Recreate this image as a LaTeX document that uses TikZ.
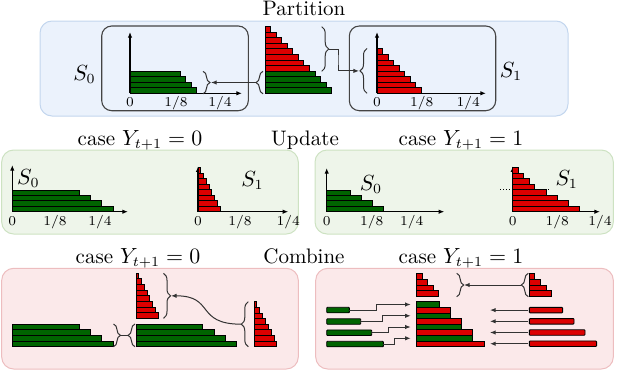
\documentclass[tikz,border=0pt]{standalone}
\usetikzlibrary{arrows.meta,decorations.pathreplacing,calc}
\definecolor{gfill}{HTML}{006400}
\definecolor{rfill}{HTML}{DD0000}
\definecolor{bluebg}{HTML}{EBF2FC}
\definecolor{blueln}{HTML}{C3D6EE}
\definecolor{greenbg}{HTML}{EEF5EA}
\definecolor{greenln}{HTML}{CDE2C2}
\definecolor{redbg}{HTML}{FBE9EA}
\definecolor{redln}{HTML}{EDBDBF}
\definecolor{boxln}{HTML}{444444}
\definecolor{conncol}{HTML}{333333}
\newcommand\mystack[4]{%
  \foreach \w/\c [count=\i] in {#4} {\draw[bar,fill=\c] (#1,{#2+(\i-1)*#3}) rectangle ++(\w,#3);}}
\tikzset{
  bar/.style={draw=black, line width=0.45pt},
  axis/.style={draw=black, line width=0.55pt, -{Latex[length=2.8pt,width=2.2pt]}},
  tick/.style={font=\fontsize{6.8}{7}\selectfont, anchor=base, inner sep=0pt},
  ttl/.style={font=\fontsize{10.5}{12}\selectfont, anchor=base, inner sep=0pt},
  brc/.style={draw=conncol, line width=0.5pt, decorate, decoration={brace, amplitude=3.5pt}},
  conn/.style={draw=conncol, line width=0.5pt, -{Latex[length=2.8pt,width=2.2pt]}},
  plainconn/.style={draw=conncol, line width=0.5pt},
  bluepanel/.style={fill=bluebg, draw=blueln, line width=0.5pt, rounded corners=6pt},
  greenpanel/.style={fill=greenbg, draw=greenln, line width=0.5pt, rounded corners=6pt},
  redpanel/.style={fill=redbg, draw=redln, line width=0.5pt, rounded corners=6pt},
  innerbox/.style={draw=boxln, line width=0.55pt, rounded corners=5pt},
}
\begin{document}
\begin{tikzpicture}[x=0.5pt,y=-0.5pt]
\useasboundingbox (0,0) rectangle (640,391);
% ---------------- panels
\draw[bluepanel] (40,21) rectangle (568,116);
\draw[greenpanel] (1.7,150) rectangle (298.3,234);
\draw[greenpanel] (315,150) rectangle (613.3,234);
\draw[redpanel] (1.7,268.3) rectangle (298.3,369);
\draw[redpanel] (315.7,268.3) rectangle (613.3,369);
% ---------------- titles
\node[ttl] (tpart) at (304,15.7) {Partition};
\node[ttl] (tc0a) at (140,145) {case $Y_{t+1}=0$};
\node[ttl] (tupd) at (305,145) {Update};
\node[ttl] (tc1a) at (461,145) {case $Y_{t+1}=1$};
\node[ttl] (tc0b) at (138,263.3) {case $Y_{t+1}=0$};
\node[ttl] (tcomb) at (304,263.3) {Combine};
\node[ttl] (tc1b) at (461,263.3) {case $Y_{t+1}=1$};
% ---------------- Partition
\draw[innerbox] (101.7,26) rectangle (248.3,110.7);
\draw[innerbox] (349.3,26) rectangle (495.7,110.7);
\node[ttl] (s0p) at (84.5,80) {$S_0$};
\node[ttl] (s1p) at (511,77.5) {$S_1$};
\draw[axis] (130,93.3) -- (130,32);
\draw[axis] (130,93.3) -- (242,93.3);
\mystack{130}{71.1}{5.55}{49.95/gfill,55.5/gfill,61.05/gfill,66.6/gfill}
\node[tick] at (130,106) {0};
\node[tick] at (176,106) {1/8};
\node[tick] at (220,106) {1/4};
\draw[axis] (377,93.3) -- (377,32);
\draw[axis] (377,93.3) -- (486,93.3);
\mystack{377}{48.9}{5.55}{5.55/rfill,11.1/rfill,16.65/rfill,22.2/rfill,27.75/rfill,33.3/rfill,38.85/rfill,44.4/rfill}
\node[tick] at (377,106) {0};
\node[tick] at (421.7,106) {1/8};
\node[tick] at (468.3,106) {1/4};
\mystack{265}{26.7}{5.55}{5.55/rfill,11.1/rfill,16.65/rfill,22.2/rfill,27.75/rfill,33.3/rfill,38.85/rfill,44.4/rfill,49.95/gfill,55.5/gfill,61.05/gfill,66.6/gfill}
% braces
\draw[brc] (203,71.3) -- (203,93.8);
\coordinate (b1) at (211,82.5);
\draw[brc] (263,93.8) -- (263,71.3);
\coordinate (b2) at (255.5,82.5);
\draw[brc] (321.7,26.7) -- (321.7,71.3);
\coordinate (b3) at (328.7,49);
\draw[brc] (367,93.3) -- (367,48.5);
\coordinate (b4) at (359,70.9);
\draw[conn] (b2) -- (b1);
\coordinate (k1) at (338,60);
\draw[conn] (b3) -| (k1) |- (b4);
% ---------------- Update, case 0
\node[ttl] (s0u0) at (28.3,184) {$S_0$};
\node[ttl] (s1u0) at (252.5,186.7) {$S_1$};
\draw[axis] (12.3,211.7) -- (12.3,165);
\draw[axis] (12.3,211.7) -- (128,211.7);
\mystack{12.3}{190.1}{5.4}{67/gfill,78.3/gfill,89.6/gfill,100.9/gfill}
\node[tick] at (12.3,225) {0};
\node[tick] at (55,225) {1/8};
\node[tick] at (100,225) {1/4};
\draw[axis] (198,211.7) -- (198,166.3);
\draw[axis] (198,211.7) -- (288.3,211.7);
\mystack{198}{167.7}{5.5}{2.75/rfill,5.5/rfill,8.25/rfill,11/rfill,13.75/rfill,16.5/rfill,19.25/rfill,22/rfill}
\node[tick] at (198,225) {0};
\node[tick] at (240,225) {1/8};
\node[tick] at (288.3,225) {1/4};
% ---------------- Update, case 1
\node[ttl] (s0u1) at (371,190.7) {$S_0$};
\node[ttl] (s1u1) at (566.7,185) {$S_1$};
\draw[axis] (326.7,211.7) -- (326.7,168);
\draw[axis] (326.7,211.7) -- (444.3,211.7);
\mystack{326.7}{190.1}{5.4}{23.3/gfill,34.3/gfill,45.3/gfill,56.3/gfill}
\node[tick] at (326.7,225) {0};
\node[tick] at (371.7,225) {1/8};
\node[tick] at (411.7,225) {1/4};
\draw[axis] (512.7,211.7) -- (512.7,166.3);
\draw[axis] (512.7,211.7) -- (600,211.7);
\mystack{512.7}{167.7}{5.5}{5.55/rfill,11.1/rfill,16.65/rfill,22.2/rfill,33.3/rfill,44.4/rfill,55.5/rfill,66.6/rfill}
\draw[black, line width=0.5pt, densely dotted] (500,189.7) -- (551,189.7);
\node[tick] at (512.7,225) {0};
\node[tick] at (557.3,225) {1/8};
\node[tick] at (600,225) {1/4};
% ---------------- Combine, case 0
\mystack{12.3}{324}{5.67}{67/gfill,78.3/gfill,89.6/gfill,100.9/gfill}
\mystack{136.7}{324}{5.67}{66/gfill,77.3/gfill,88.6/gfill,99.9/gfill}
\mystack{136}{273.3}{5.625}{2.75/rfill,5.5/rfill,8.25/rfill,11/rfill,13.75/rfill,16.5/rfill,19.25/rfill,22/rfill}
\mystack{254}{301.7}{5.625}{2.85/rfill,5.7/rfill,8.55/rfill,11.4/rfill,14.25/rfill,17.1/rfill,19.95/rfill,22.8/rfill}
\draw[brc] (113.5,324) -- (113.5,346.7);
\coordinate (b5) at (120.5,335.3);
\draw[brc] (135,346.7) -- (135,324);
\coordinate (b6) at (128,335.3);
\draw[plainconn] (b5) -- (b6);
\draw[brc] (163.5,273.3) -- (163.5,318.3);
\coordinate (b7) at (171,295.8);
\draw[brc] (248.3,346.7) -- (248.3,301.7);
\coordinate (b8) at (241.3,324.2);
\draw[conn] (b8) .. controls (195,324.2) and (215,295.8) .. (b7);
% ---------------- Combine, case 1
\mystack{416.7}{273.3}{5.85}{5.55/rfill,11.1/rfill,16.65/rfill,22.2/rfill}
\mystack{529.3}{273.3}{5.85}{5.55/rfill,11.1/rfill,16.65/rfill,22.2/rfill}
\mystack{416.7}{301.7}{5.625}{22.3/gfill,33.3/rfill,33.3/gfill,45/rfill,45/gfill,56/rfill,56/gfill,67.3/rfill}
\draw[brc] (456.7,273.3) -- (456.7,296.7);
\coordinate (b9) at (464,285);
\draw[brc] (528.3,296.7) -- (528.3,273.3);
\coordinate (b10) at (521.3,285);
\draw[conn] (b10) -- (b9);
% detached green bars and their arrows
\foreach \w/\yc/\ty/\bx [count=\j] in {22.7/310/304.5/376.7, 34/321.5/315.8/382.7, 45/332.7/327/388.3, 56.7/344/338.3/394}{
  \draw[bar,fill=gfill,rounded corners=0.4pt] (326.7,\yc-2.75) rectangle ++(\w,5.5);
  \coordinate (ga\j) at (326.7+\w,\yc);
  \coordinate (gk\j) at (\bx,\ty);
  \coordinate (gt\j) at (410.7,\ty);
  \draw[conn] (ga\j) -| (gk\j) -- (gt\j);
}
% detached red bars and their arrows
\foreach \w/\yc [count=\j] in {33.3/310.1, 44.7/321.3, 55.7/332.5, 67.3/343.7}{
  \draw[bar,fill=rfill,rounded corners=0.4pt] (529.3,\yc-2.75) rectangle ++(\w,5.5);
  \coordinate (ra\j) at (528.3,\yc);
  \coordinate (rt\j) at (490,\yc);
  \draw[conn] (ra\j) -- (rt\j);
}
\end{tikzpicture}
\end{document}
